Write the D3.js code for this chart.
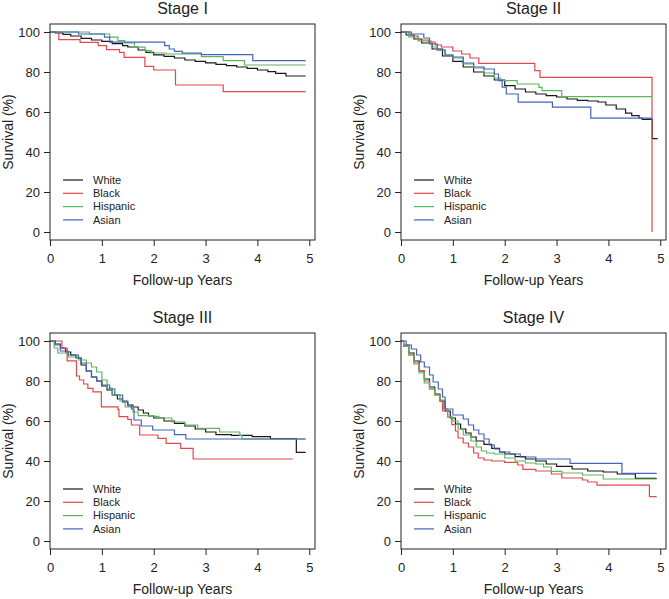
<!DOCTYPE html>
<html>
<head>
<meta charset="utf-8">
<script src="https://cdn.jsdelivr.net/npm/d3@7"></script>
<style>
  body { margin: 0; background: #fff; }
  text { font-family: "Liberation Sans", Arial, sans-serif; fill: #222; }
</style>
</head>
<body>
<div id="chart"></div>
<script>
// groups and their colours
const groups = ["White", "Black", "Hispanic", "Asian"];
const groupColors = ["#1a1a1a", "#e4474c", "#5cb75c", "#4565bd"];
const stageTitles = ["Stage I", "Stage II", "Stage III", "Stage IV"];
const xTicks = [0, 1, 2, 3, 4, 5];
const yTicks = [0, 20, 40, 60, 80, 100];

// Kaplan-Meier steps: [years, survival %]
const s1White = [[0,100],[0.1,99.5],[0.25,98.8],[0.4,98],[0.6,96.8],[0.8,96],[1.0,95.3],[1.2,94.2],[1.4,93.2],[1.5,92.5],[1.7,91],[1.85,89.8],[2.0,88.6],[2.2,87.8],[2.4,87],[2.6,86],[2.8,85.3],[3.0,84.6],[3.2,83.8],[3.4,83.2],[3.6,82.5],[3.8,81.8],[4.0,81],[4.2,80.2],[4.35,79.3],[4.55,78],[4.93,78]];
const s1Black = [[0,100],[0.17,96.2],[0.58,94.8],[0.93,93.2],[1.09,91.2],[1.34,89.8],[1.43,87.3],[1.83,82.8],[2.0,81],[2.42,73.5],[3.34,70.2],[4.93,70.2]];
const s1Hispanic = [[0,100],[0.76,99],[1.15,97.4],[1.31,95.7],[1.44,94.5],[1.63,92.4],[1.83,90.7],[1.95,89.5],[2.24,89],[2.92,87.7],[3.34,85.7],[3.75,83.5],[4.93,83.5]];
const s1Asian = [[0,100],[0.55,99],[1.05,97.4],[1.15,94.9],[2.21,93.2],[2.3,91.5],[2.4,90.3],[2.55,89.4],[2.92,88.7],[3.91,85.7],[4.93,85.7]];

const s2White = [[0,100],[0.1,98.5],[0.25,96.5],[0.4,94.5],[0.6,91.5],[0.8,88],[1.0,85.3],[1.2,82.5],[1.4,80],[1.6,78],[1.8,76],[2.0,73.2],[2.2,71.5],[2.4,70],[2.6,69],[2.8,68.2],[3.0,67.5],[3.2,66.5],[3.4,65.8],[3.6,65.5],[3.8,65],[3.95,63.5],[4.15,61.5],[4.33,59.4],[4.45,58.2],[4.59,57],[4.65,56.3],[4.845,46.7],[4.95,46.7]];
const s2Black = [[0,100],[0.17,98],[0.33,96],[0.53,95],[0.66,93.5],[0.78,92.5],[1.0,90.5],[1.17,89],[1.33,87],[1.5,84.3],[2.58,80.7],[2.68,77.3],[4.84,0]];
const s2Hispanic = [[0,100],[0.15,97.5],[0.33,95.5],[0.59,92.5],[0.7,91],[0.85,88.5],[1.0,87],[1.2,84],[1.4,82],[1.6,79.5],[1.8,77],[1.92,75.7],[2.24,74],[2.66,72.3],[2.72,70.7],[3.1,67.7],[4.85,67.7]];
const s2Asian = [[0,100],[0.2,99],[0.44,97],[0.55,94],[0.7,91],[0.85,88.5],[1.0,87.5],[1.2,84.5],[1.4,82.5],[1.6,81.5],[1.8,79],[1.88,75.7],[1.95,72.4],[2.03,69],[2.26,64.9],[2.92,62.4],[3.66,56.9],[4.85,56.9]];

const s3White = [[0,100],[0.1,98.5],[0.2,96.5],[0.3,94.5],[0.4,93],[0.5,91.5],[0.6,88],[0.7,85],[0.8,82],[0.9,80],[1.0,77.5],[1.1,75.5],[1.2,73],[1.3,71],[1.4,69.5],[1.5,68],[1.6,67],[1.7,65.5],[1.8,64],[1.9,62.5],[2.0,61.5],[2.2,60],[2.4,58.8],[2.6,57.5],[2.8,56],[3.0,54.5],[3.2,53.2],[3.5,52.8],[3.9,52.2],[4.25,51.2],[4.75,44.3],[4.93,44.3]];
const s3Black = [[0,100],[0.23,96.3],[0.33,90.1],[0.51,82.5],[0.57,80.5],[0.65,78.5],[0.73,76.3],[0.83,74.6],[0.99,67.1],[1.31,65.8],[1.33,62.2],[1.5,60.8],[1.57,58],[1.73,53],[2.08,51.3],[2.24,48.8],[2.52,46.3],[2.76,41],[4.68,41]];
const s3Hispanic = [[0,100],[0.08,96.5],[0.15,94],[0.35,92],[0.55,90.5],[0.7,89],[0.8,87],[0.9,84.5],[1.0,80.5],[1.1,76.5],[1.2,73],[1.35,70],[1.45,67],[1.6,64.5],[1.7,62.7],[2.0,62.3],[2.1,61.5],[2.35,59.5],[2.6,58],[2.85,56.3],[3.27,54.5],[3.66,52.8],[3.7,51],[4.93,51]];
const s3Asian = [[0,100],[0.1,98],[0.2,95],[0.35,93],[0.55,91.5],[0.6,89],[0.7,85],[0.8,82],[0.9,80],[1.0,78],[1.15,76],[1.25,73],[1.4,70],[1.5,67.5],[1.57,66],[1.62,60.5],[1.76,57.5],[1.98,55.5],[2.4,53.2],[2.62,51],[4.93,51]];

const s4White = [[0,100],[0.05,97.5],[0.15,94],[0.25,90],[0.35,85],[0.45,81],[0.55,77],[0.65,73.5],[0.75,70],[0.85,65],[0.95,61.5],[1.05,58.5],[1.15,56],[1.25,54],[1.35,52],[1.45,50],[1.6,48.3],[1.75,46.3],[1.9,44.5],[2.0,43.5],[2.2,42.2],[2.4,41],[2.6,40],[2.8,38.5],[3.0,37.3],[3.3,36],[3.6,35],[3.9,34.5],[4.17,33.5],[4.52,31.3],[4.93,31.3]];
const s4Black = [[0,100],[0.05,98],[0.15,93],[0.25,89],[0.35,85],[0.45,80],[0.55,76],[0.65,73],[0.75,70],[0.8,65],[0.9,62],[0.98,58.2],[1.05,55],[1.1,51.5],[1.2,49],[1.3,47],[1.4,44],[1.49,41.5],[1.6,40.5],[1.75,40],[2.0,39.3],[2.25,38],[2.35,35.8],[2.6,35],[2.9,33.5],[3.1,31.5],[3.5,30.5],[3.6,29.5],[3.78,27.9],[4.79,22.2],[4.93,22.2]];
const s4Hispanic = [[0,100],[0.05,98],[0.15,93],[0.25,88.5],[0.35,84],[0.45,79],[0.55,76],[0.65,73],[0.75,70.5],[0.82,66],[0.9,62],[1.0,60],[1.1,56],[1.2,53],[1.35,50],[1.45,47],[1.55,45],[1.65,44],[1.8,43.5],[2.0,41.5],[2.2,40],[2.4,39],[2.6,38.5],[2.75,37],[2.9,34.8],[3.1,34],[3.5,33],[3.9,31],[4.93,31]];
const s4Asian = [[0,100],[0.1,98],[0.2,96],[0.3,93],[0.38,89.5],[0.45,87],[0.55,83],[0.62,79.5],[0.72,76],[0.8,72],[0.85,66],[1.0,63],[1.2,61],[1.3,58],[1.4,55.5],[1.5,53.5],[1.6,51],[1.7,48],[1.8,46],[1.9,44.5],[2.1,43.5],[2.3,42],[2.6,41],[3.26,38.8],[4.26,33.8],[4.93,33.8]];

const stageSeries = [
  [s1White, s1Black, s1Hispanic, s1Asian],
  [s2White, s2Black, s2Hispanic, s2Asian],
  [s3White, s3Black, s3Hispanic, s3Asian],
  [s4White, s4Black, s4Hispanic, s4Asian]
];

const W = 669, H = 599;
const pw = 265, ph = 216;
const origins = [[50, 24], [401, 24], [50, 333], [401, 333]];

const svg = d3.select("#chart").append("svg")
    .attr("width", W)
    .attr("height", H);

const x = d3.scaleLinear().domain([0, 5.11]).range([0, pw]);
const y = d3.scaleLinear().domain([-4, 104]).range([ph, 0]);

const line = d3.line()
    .x(d => x(d[0]))
    .y(d => y(d[1]))
    .curve(d3.curveStepAfter);

stageSeries.forEach(function(series, i) {
    const g = svg.append("g")
        .attr("transform", "translate(" + origins[i][0] + "," + origins[i][1] + ")");

    // curves
    series.forEach(function(pts, k) {
        g.append("path")
            .attr("d", line(pts))
            .style("fill", "none")
            .style("stroke", groupColors[k])
            .style("stroke-width", 1.2);
    });

    // box
    g.append("rect")
        .attr("width", pw)
        .attr("height", ph)
        .style("fill", "none")
        .style("stroke", "#222")
        .style("stroke-width", 1);

    const xAxis = g.append("g")
        .attr("transform", "translate(0," + ph + ")")
        .call(d3.axisBottom(x).tickValues(xTicks).tickFormat(d3.format("d")).tickSize(6).tickPadding(8));
    const yAxis = g.append("g")
        .call(d3.axisLeft(y).tickValues(yTicks).tickFormat(d3.format("d")).tickSize(6).tickPadding(4));

    [xAxis, yAxis].forEach(function(a) {
        a.select(".domain").remove();
        a.selectAll("line").style("stroke", "#222");
        a.selectAll("text")
            .style("font-size", "13px")
            .style("font-family", "'Liberation Sans', Arial, sans-serif")
            .style("fill", "#222");
    });

    g.append("text")
        .attr("x", pw / 2)
        .attr("y", -10)
        .attr("text-anchor", "middle")
        .style("font-size", "16px")
        .text(stageTitles[i]);

    g.append("text")
        .attr("x", pw / 2)
        .attr("y", 261)
        .attr("text-anchor", "middle")
        .style("font-size", "14px")
        .text("Follow-up Years");

    g.append("text")
        .attr("transform", "translate(-37," + (ph / 2) + ") rotate(-90)")
        .attr("text-anchor", "middle")
        .style("font-size", "14px")
        .text("Survival (%)");

    // legend
    const legend = g.append("g")
        .attr("transform", "translate(13,156)");
    groups.forEach(function(name, k) {
        legend.append("line")
            .attr("x1", 0).attr("x2", 20)
            .attr("y1", k * 13.3).attr("y2", k * 13.3)
            .style("stroke", groupColors[k])
            .style("stroke-width", 1.2);
        legend.append("text")
            .attr("x", 30)
            .attr("y", k * 13.3)
            .attr("dy", "0.35em")
            .style("font-size", "11px")
            .text(name);
    });
});
</script>
</body>
</html>
